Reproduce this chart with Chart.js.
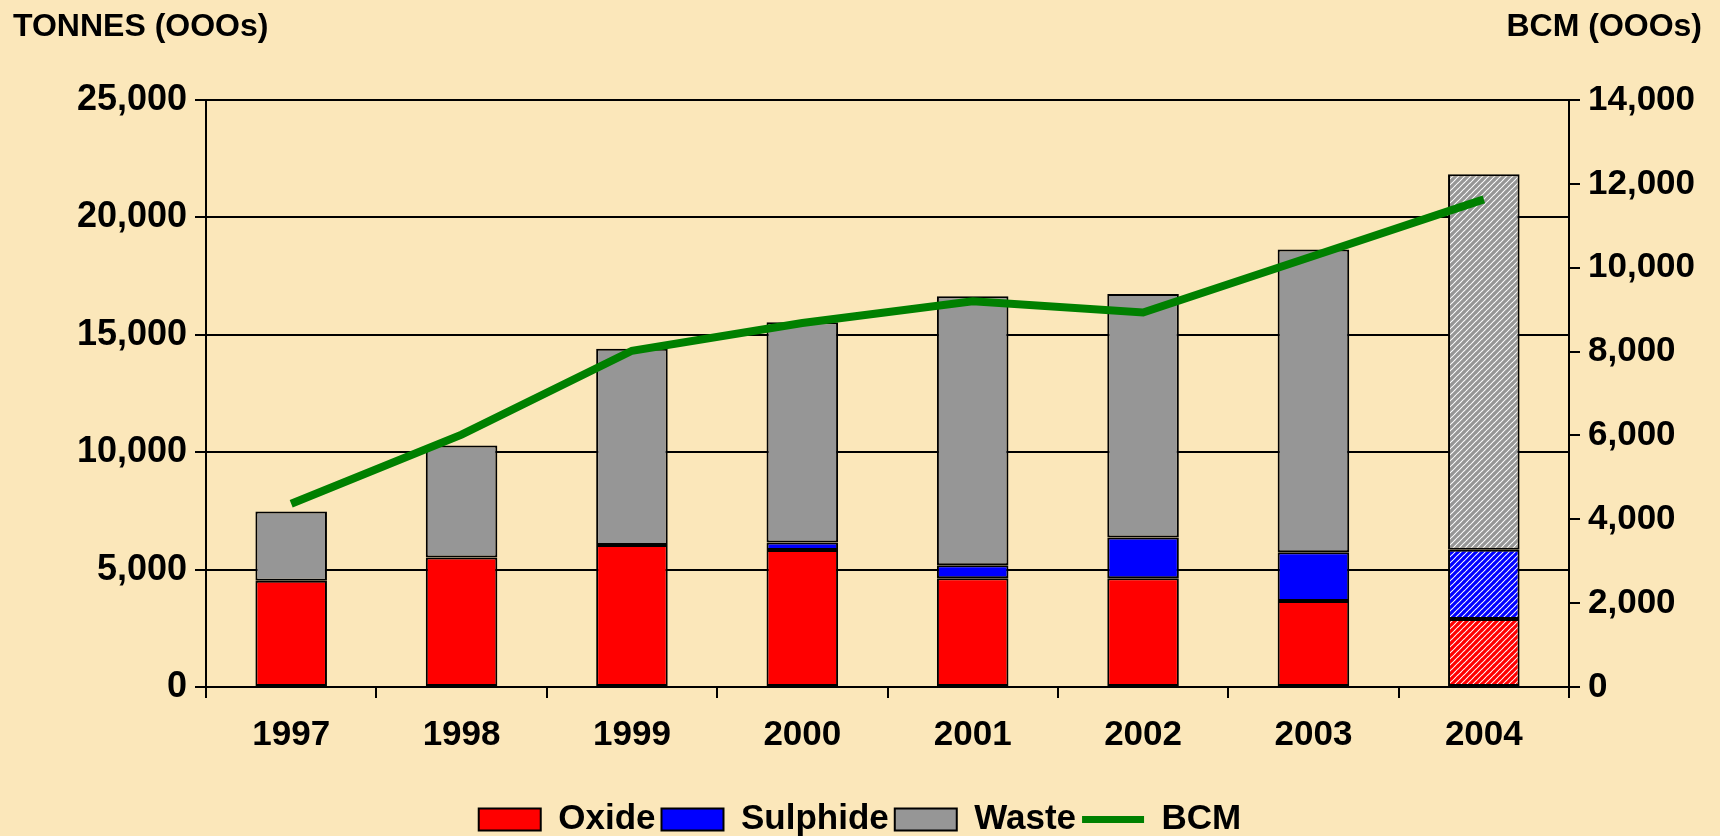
<!DOCTYPE html>
<html>
<head>
<meta charset="utf-8">
<script src="https://cdn.jsdelivr.net/npm/chart.js@4"></script>
<style>
  html, body { margin: 0; padding: 0; background: #fbe7ba; }
  #wrap { width: 1720px; height: 836px; }
</style>
</head>
<body>
<div id="wrap"><canvas id="myChart" width="1720" height="836"></canvas></div>
<script>
const years = ['1997', '1998', '1999', '2000', '2001', '2002', '2003', '2004'];
const oxide = [4530, 5520, 6050, 5840, 4630, 4630, 3660, 2900];
const sulphide = [0, 0, 0, 310, 560, 1740, 2080, 2950];
const waste = [2940, 4770, 8360, 9380, 11450, 10370, 12890, 15990];
const bcm = [4370, 6020, 8020, 8680, 9200, 8930, 10280, 11630];

const tonnesTicks = [0, 5000, 10000, 15000, 20000, 25000];
const bcmTicks = [0, 2000, 4000, 6000, 8000, 10000, 12000, 14000];

// last year is a forecast, drawn hatched
const forecastIndex = years.length - 1;

function hatch(color) {
    const size = 6;
    const c = document.createElement('canvas');
    c.width = size;
    c.height = size;
    const g = c.getContext('2d');
    g.fillStyle = '#ffffff';
    g.fillRect(0, 0, size, size);
    g.strokeStyle = color;
    g.lineWidth = 3.2;
    g.beginPath();
    g.moveTo(-1, size + 1); g.lineTo(size + 1, -1);
    g.moveTo(-1, 1); g.lineTo(1, -1);
    g.moveTo(size - 1, size + 1); g.lineTo(size + 1, size - 1);
    g.stroke();
    return g.createPattern(c, 'repeat');
}

function fills(color) {
    return years.map((y, i) => i === forecastIndex ? hatch(color) : color);
}

const font = { family: "'Liberation Sans', Arial, sans-serif", weight: 'bold' };

const background = {
    id: 'background',
    beforeDraw(chart) {
        const ctx = chart.ctx;
        ctx.save();
        ctx.fillStyle = '#fbe7ba';
        ctx.fillRect(0, 0, chart.width, chart.height);
        ctx.restore();
    }
};

const axisTitles = {
    id: 'axisTitles',
    afterDraw(chart) {
        const ctx = chart.ctx;
        ctx.save();
        ctx.fillStyle = '#000';
        ctx.font = "bold 32px 'Liberation Sans', Arial, sans-serif";
        ctx.textBaseline = 'middle';
        ctx.textAlign = 'left';
        ctx.fillText('TONNES (OOOs)', 13, 27);
        ctx.textAlign = 'right';
        ctx.fillText('BCM (OOOs)', 1702, 27);
        ctx.restore();
    }
};

const barCommon = {
    type: 'bar',
    stack: 'tonnes',
    borderColor: '#000',
    // no outline for empty segments
    borderWidth: c => (c.raw ? 2 : 0),
    borderSkipped: false,
    yAxisID: 'y',
    order: 1,
    categoryPercentage: 1,
    barPercentage: 0.42
};

const ctx = document.getElementById('myChart').getContext('2d');
new Chart(ctx, {
    data: {
        labels: years,
        datasets: [
            Object.assign({ label: 'Oxide', data: oxide, backgroundColor: fills('#ff0000') }, barCommon),
            Object.assign({ label: 'Sulphide', data: sulphide, backgroundColor: fills('#0000ff') }, barCommon),
            Object.assign({ label: 'Waste', data: waste, backgroundColor: fills('#969696') }, barCommon),
            {
                type: 'line',
                label: 'BCM',
                data: bcm,
                borderColor: '#008000',
                backgroundColor: '#008000',
                borderWidth: 8,
                pointRadius: 0,
                tension: 0,
                yAxisID: 'y2',
                order: 0
            }
        ]
    },
    options: {
        responsive: false,
        animation: false,
        layout: { padding: { top: 100, left: 0, right: 0, bottom: -11 } },
        plugins: {
            tooltip: { enabled: false },
            legend: {
                position: 'bottom',
                labels: {
                    color: '#000',
                    font: Object.assign({ size: 35, lineHeight: 1 }, font),
                    usePointStyle: true,
                    pointStyleWidth: 62,
                    boxHeight: 22,
                    padding: 6,
                    generateLabels(chart) {
                        return chart.data.datasets.map((ds, i) => ({
                            text: ds.label,
                            fillStyle: ds.type === 'line' ? ds.borderColor : ds.backgroundColor[0],
                            strokeStyle: ds.type === 'line' ? ds.borderColor : '#000',
                            lineWidth: ds.type === 'line' ? 7 : 2,
                            pointStyle: ds.type === 'line' ? 'line' : 'rect',
                            fontColor: '#000',
                            hidden: false,
                            datasetIndex: i
                        }));
                    }
                }
            }
        },
        scales: {
            x: {
                stacked: true,
                grid: { offset: true, drawOnChartArea: false, color: '#000', lineWidth: 2, tickLength: 11 },
                border: { color: '#000', width: 2 },
                ticks: { color: '#000', font: Object.assign({ size: 35 }, font), padding: 16, maxRotation: 0 },
                afterFit(scale) { scale.height = 109; }
            },
            y: {
                stacked: true,
                position: 'left',
                min: 0,
                max: 25000,
                afterBuildTicks(scale) { scale.ticks = tonnesTicks.map(v => ({ value: v })); },
                grid: { color: '#000', lineWidth: 2, tickLength: 11 },
                border: { color: '#000', width: 2 },
                ticks: {
                    color: '#000',
                    font: Object.assign({ size: 36 }, font),
                    padding: 8,
                    callback: v => v.toLocaleString('en-US')
                },
                afterFit(scale) { scale.width = 206; }
            },
            y2: {
                position: 'right',
                min: 0,
                max: 14000,
                afterBuildTicks(scale) { scale.ticks = bcmTicks.map(v => ({ value: v })); },
                grid: { drawOnChartArea: false, color: '#000', lineWidth: 2, tickLength: 11 },
                border: { color: '#000', width: 2 },
                ticks: {
                    color: '#000',
                    font: Object.assign({ size: 35 }, font),
                    padding: 8,
                    callback: v => v.toLocaleString('en-US')
                },
                afterFit(scale) { scale.width = 151; }
            }
        }
    },
    plugins: [background, axisTitles]
});
</script>
</body>
</html>
